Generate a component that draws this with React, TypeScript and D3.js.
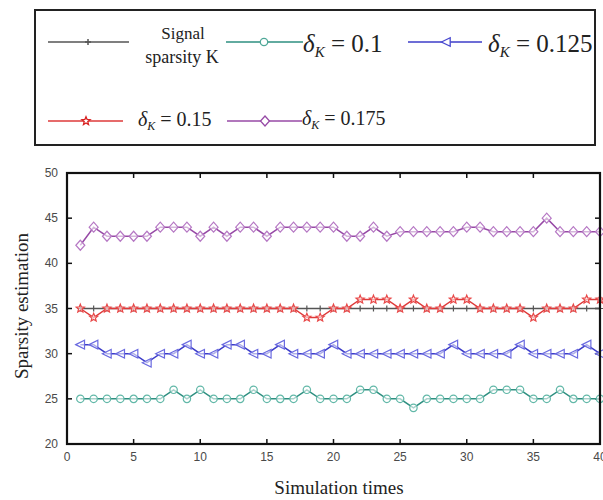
import React from "react";
import * as d3 from "d3";

const xValues = d3.range(1, 41);
const signalK = xValues.map(() => 35);
const delta010 = [25,25,25,25,25,25,25,26,25,26,25,25,25,26,25,25,25,26,25,25,25,26,26,25,25,24,25,25,25,25,25,26,26,26,25,25,26,25,25,25];
const delta0125 = [31,31,30,30,30,29,30,30,31,30,30,31,31,30,30,31,30,30,30,31,30,30,30,30,30,30,30,30,31,30,30,30,30,31,30,30,30,30,31,30];
const delta015 = [35,34,35,35,35,35,35,35,35,35,35,35,35,35,35,35,35,34,34,35,35,36,36,36,35,36,35,35,36,36,35,35,35,35,34,35,35,35,36,36];
const delta0175 = [42,44,43,43,43,43,44,44,44,43,44,43,44,44,43,44,44,44,44,44,43,43,44,43,43.5,43.5,43.5,43.5,43.5,44,44,43.5,43.5,43.5,43.5,45,43.5,43.5,43.5,43.5];
const xTicks = [0,5,10,15,20,25,30,35,40];
const yTicks = [20,25,30,35,40,45,50];

type Marker = "plus" | "circle" | "triL" | "star" | "diamond";

function markerPath(type: Marker, cx: number, cy: number): string {
  if (type === "plus") return `M${cx - 3},${cy}H${cx + 3}M${cx},${cy - 3}V${cy + 3}`;
  if (type === "circle") {
    const r = 3.7;
    return `M${cx + r},${cy}A${r},${r} 0 1,1 ${cx - r},${cy}A${r},${r} 0 1,1 ${cx + r},${cy}Z`;
  }
  if (type === "triL") return `M${cx - 4.6},${cy}L${cx + 4.2},${cy - 4.3}L${cx + 4.2},${cy + 4.3}Z`;
  if (type === "diamond") return `M${cx},${cy - 5}L${cx + 4.5},${cy}L${cx},${cy + 5}L${cx - 4.5},${cy}Z`;
  const pts: string[] = [];
  for (let i = 0; i < 10; i++) {
    const r = i % 2 === 0 ? 4.3 : 1.9;
    const a = -Math.PI / 2 + (i * Math.PI) / 5;
    pts.push(`${cx + r * Math.cos(a)},${cy + r * Math.sin(a)}`);
  }
  return `M${pts.join("L")}Z`;
}

const seriesDefs = [
  { name: "K", values: signalK, line: "#555555", mark: "#555555", marker: "plus" as Marker },
  { name: "0.1", values: delta010, line: "#2e8f80", mark: "#62b8a8", marker: "circle" as Marker },
  { name: "0.125", values: delta0125, line: "#3c3cc8", mark: "#6a6ae0", marker: "triL" as Marker },
  { name: "0.175", values: delta0175, line: "#974aa6", mark: "#b678c4", marker: "diamond" as Marker },
  { name: "0.15", values: delta015, line: "#de3a3a", mark: "#e84848", marker: "star" as Marker },
];

const left = 67, right = 600, top = 173, bottom = 444;

export default function App() {
  const x = d3.scaleLinear().domain([0, 40]).range([left, right]);
  const y = d3.scaleLinear().domain([20, 50]).range([bottom, top]);
  const line = d3.line<number>().x((_, i) => x(xValues[i])).y((d) => y(d));

  const serif = "'Liberation Serif', 'Times New Roman', serif";
  const sans = "'Liberation Sans', Arial, sans-serif";

  const delta = (value: string, xPos: number, yPos: number, size: number) => (
    <text x={xPos} y={yPos} fontFamily={serif} fontSize={size} fill="#222">
      <tspan fontStyle="italic">δ</tspan>
      <tspan fontStyle="italic" fontSize={size * 0.6} dy={size * 0.2}>K</tspan>
      <tspan dy={-size * 0.2}>{` = ${value}`}</tspan>
    </text>
  );

  const legendItem = (m: Marker, color: string, mcolor: string, x1: number, x2: number, mx: number, yy: number) => (
    <g>
      <line x1={x1} x2={x2} y1={yy} y2={yy} stroke={color} strokeWidth={1.5} />
      <path d={markerPath(m, mx, yy)} fill={m === "plus" ? "none" : "#fff"} stroke={mcolor} strokeWidth={m === "plus" ? 1.5 : 1.3} />
    </g>
  );

  return (
    <svg width={603} height={500} style={{ position: "absolute", left: 0, top: 0, background: "#fff" }}>
      <rect x={0} y={0} width={603} height={500} fill="#fff" />
      {/* Legend */}
      <rect x={35} y={10} width={560} height={135} fill="#fff" stroke="#222" strokeWidth={2} />
      {legendItem("plus", "#555", "#555", 48, 129, 88, 42)}
      <text x={183} y={39} textAnchor="middle" fontFamily={serif} fontSize={17} fill="#222">Signal</text>
      <text x={182} y={63} textAnchor="middle" fontFamily={serif} fontSize={18} fill="#222">sparsity K</text>
      {legendItem("circle", "#2e8f80", "#4fa898", 226, 303, 264, 42)}
      {delta("0.1", 303, 52, 25)}
      {legendItem("triL", "#3c3cc8", "#4a4ad0", 408, 482, 446, 42)}
      {delta("0.125", 488, 52, 25)}
      {legendItem("star", "#de3a3a", "#d82020", 48, 123, 86, 121)}
      {delta("0.15", 138, 126, 20)}
      {legendItem("diamond", "#974aa6", "#974aa6", 227, 302, 265, 121)}
      {delta("0.175", 302, 125, 20)}

      {/* Plot frame */}
      <rect x={left} y={top} width={right - left} height={bottom - top} fill="#fff" />
      {xTicks.map((t) => (
        <g key={"xt" + t}>
          <line x1={x(t)} x2={x(t)} y1={bottom} y2={bottom - 5} stroke="#111" strokeWidth={1.5} />
          <line x1={x(t)} x2={x(t)} y1={top} y2={top + 5} stroke="#111" strokeWidth={1.5} />
          <text x={x(t)} y={461} textAnchor="middle" fontFamily={sans} fontSize={12} fill="#4a4a4a">{t}</text>
        </g>
      ))}
      {yTicks.map((t) => (
        <g key={"yt" + t}>
          <line x1={left} x2={left + 5} y1={y(t)} y2={y(t)} stroke="#111" strokeWidth={1.5} />
          <line x1={right} x2={right - 5} y1={y(t)} y2={y(t)} stroke="#111" strokeWidth={1.5} />
          <text x={58} y={y(t) + 4} textAnchor="end" fontFamily={sans} fontSize={12} fill="#4a4a4a">{t}</text>
        </g>
      ))}

      {/* Series */}
      {seriesDefs.map((s) => (
        <g key={s.name}>
          <path d={line(s.values) || ""} fill="none" stroke={s.line} strokeWidth={1.5} />
          {s.values.map((v, i) => (
            <path
              key={i}
              d={markerPath(s.marker, x(xValues[i]), y(v))}
              fill={s.marker === "plus" ? "none" : "#fff"}
              fillOpacity={s.marker === "plus" ? 0 : 0.6}
              stroke={s.mark}
              strokeWidth={1.2}
            />
          ))}
        </g>
      ))}

      <rect x={left} y={top} width={right - left} height={bottom - top} fill="none" stroke="#111" strokeWidth={2.2} />

      {/* Axis titles */}
      <text transform={`translate(28,306) rotate(-90)`} textAnchor="middle" fontFamily={serif} fontSize={19} fill="#222">Sparsity estimation</text>
      <text x={339} y={494} textAnchor="middle" fontFamily={serif} fontSize={19} fill="#222">Simulation times</text>
    </svg>
  );
}
